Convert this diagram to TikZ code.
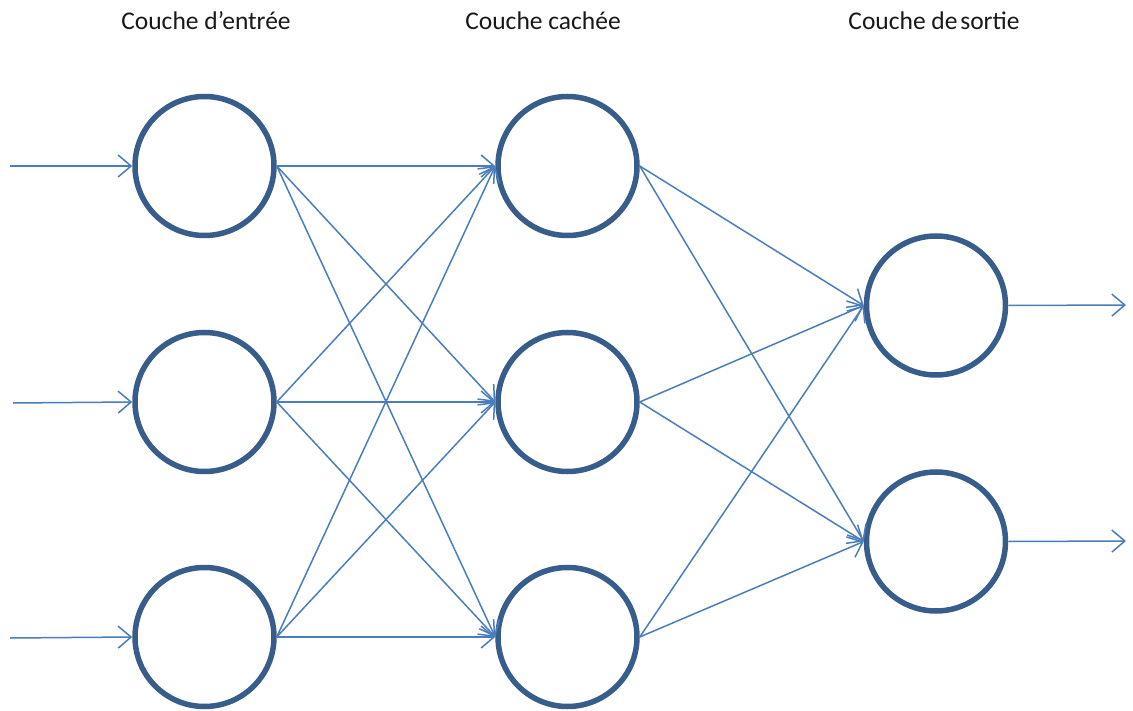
\documentclass[tikz,border=0pt]{standalone}
\usepackage{fontspec}
\setmainfont{Carlito}
\usetikzlibrary{arrows.meta}
\definecolor{ring}{HTML}{385D8A}
\definecolor{wire}{HTML}{4A7EBB}
\begin{document}
\begin{tikzpicture}[x=1pt,y=-1pt,
  neuron/.style={circle,draw=ring,line width=5.5pt,fill=white,minimum size=139pt,inner sep=0pt},
  wirestyle/.style={draw=wire,line width=1.5pt,-{Straight Barb[length=13pt,width=22pt,line width=1.5pt]}},
  title/.style={font=\fontsize{25.5}{28}\selectfont,text=black!90,inner sep=0pt}]
\useasboundingbox[fill=white] (0,0) rectangle (1133,711);
\node[title] (t1) at (206,21) {Couche d’entrée};
\node[title] (t2) at (543,21) {Couche cachée};
\node[title] (t3) at (934,21) {Couche de\kern-3pt\ sortie};
\node[neuron] (i1) at (204.5,166) {};
\node[neuron] (i2) at (204.5,402) {};
\node[neuron] (i3) at (204.5,637) {};
\node[neuron] (h1) at (567.5,166) {};
\node[neuron] (h2) at (567.5,402) {};
\node[neuron] (h3) at (567.5,637) {};
\node[neuron] (o1) at (936,305.5) {};
\node[neuron] (o2) at (936,541.5) {};
\coordinate (a1) at (10,166);
\coordinate (a2) at (13,403);
\coordinate (a3) at (10,638);
\coordinate (b1) at (1126,305);
\coordinate (b2) at (1126,541);
\draw[wirestyle] (a1) -- (i1.west);
\draw[wirestyle] (a2) -- (i2.west);
\draw[wirestyle] (a3) -- (i3.west);
\foreach \s in {i1,i2,i3}{
  \foreach \t in {h1,h2,h3}{
    \draw[wirestyle] (\s.east) -- (\t.west);
  }
}
\foreach \s in {h1,h2,h3}{
  \foreach \t in {o1,o2}{
    \draw[wirestyle] (\s.east) -- (\t.west);
  }
}
\draw[wirestyle] (o1.east) -- (b1);
\draw[wirestyle] (o2.east) -- (b2);
\end{tikzpicture}
\end{document}
